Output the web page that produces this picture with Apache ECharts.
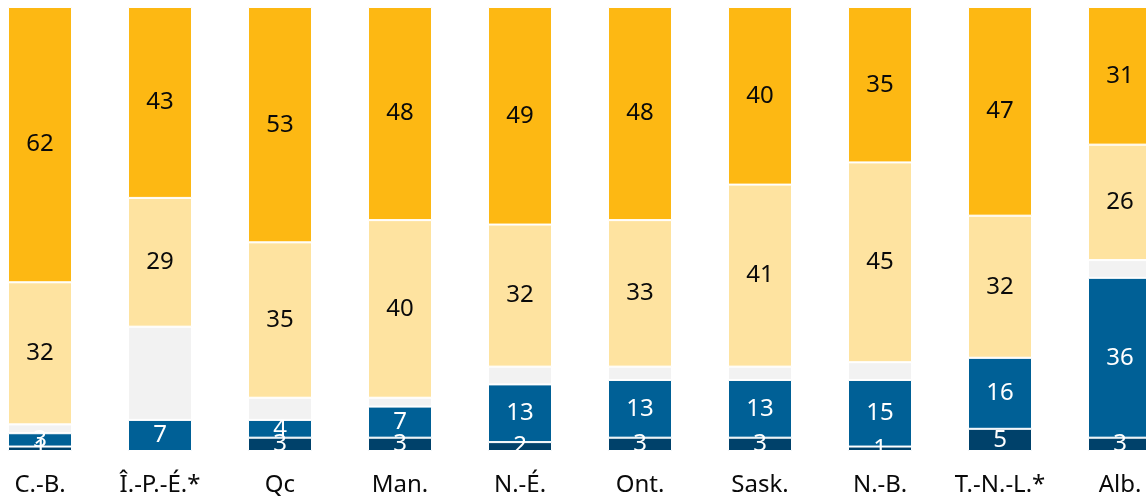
<!DOCTYPE html>
<html>
<head>
<meta charset="utf-8">
<script src="https://cdn.jsdelivr.net/npm/echarts@6/dist/echarts.min.js"></script>
<style>
html,body{margin:0;padding:0;background:#fff;overflow:hidden;width:1146px;height:500px}
#wrap{position:relative;width:1146px;height:500px;overflow:hidden}
#c{position:absolute;left:-20px;top:0;width:1200px;height:500px}
</style>
</head>
<body>
<div id="wrap"><div id="c"></div></div>
<script>
const categories = ['C.-B.', 'Î.-P.-É.*', 'Qc', 'Man.', 'N.-É.', 'Ont.', 'Sask.', 'N.-B.', 'T.-N.-L.*', 'Alb.'];
const seriesDark   = [1, 0, 3, 3, 2, 3, 3, 1, 5, 3];
const seriesBlue   = [3, 7, 4, 7, 13, 13, 13, 15, 16, 36];
const seriesGray   = [2, 21, 5, 2, 4, 3, 3, 4, 0, 4];
const seriesLight  = [32, 29, 35, 40, 32, 33, 41, 45, 32, 26];
const seriesGold   = [62, 43, 53, 48, 49, 48, 40, 35, 47, 31];

const FONT = 'Noto Sans';
function mk(name, data, color, textColor, showLabel) {
  return {
    name, type: 'bar', stack: 'all', data, barWidth: 64,
    itemStyle: { color, borderColor: '#fff', borderWidth: 1 },
    label: {
      show: showLabel, position: 'inside', color: textColor,
      fontFamily: FONT, fontSize: 24,
      formatter: p => (p.value ? String(p.value) : '')
    },
    labelLayout: { hideOverlap: false },
    emphasis: { disabled: true }
  };
}
const chart = echarts.init(document.getElementById('c'), null, { renderer: 'canvas' });
chart.setOption({
  animation: false,
  grid: { left: 0, right: 0, top: 7, bottom: 49, containLabel: false },
  xAxis: {
    type: 'category', data: categories,
    axisLine: { show: false }, axisTick: { show: false },
    axisLabel: { color: '#0a0a0a', fontFamily: FONT, fontSize: 24, margin: 22, interval: 0 }
  },
  yAxis: { type: 'value', min: 0, max: 100, show: false, splitLine: { show: false } },
  series: [
    mk('d', seriesDark, '#00416A', '#fff', true),
    mk('b', seriesBlue, '#006096', '#fff', true),
    mk('g', seriesGray, '#F2F2F2', '#fff', false),
    mk('l', seriesLight, '#FEE3A0', '#0a0a0a', true),
    mk('o', seriesGold, '#FDB813', '#0a0a0a', true)
  ]
});
</script>
</body>
</html>
